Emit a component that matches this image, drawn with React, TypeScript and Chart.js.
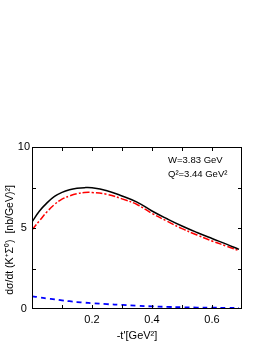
import React, { useEffect, useRef } from "react";
import { Chart, registerables } from "chart.js";

Chart.register(...registerables);

const tValues = [0, 0.025, 0.05, 0.075, 0.1, 0.125, 0.15, 0.175, 0.2, 0.25, 0.3, 0.35, 0.4, 0.45, 0.5, 0.55, 0.6, 0.65, 0.69];
const totalSeries = [5.38, 6.05, 6.55, 6.95, 7.2, 7.36, 7.45, 7.49, 7.48, 7.3, 6.98, 6.6, 6.05, 5.57, 5.12, 4.72, 4.35, 3.99, 3.68];
const transverseSeries = [4.88, 5.45, 6.0, 6.45, 6.78, 6.98, 7.12, 7.19, 7.19, 7.08, 6.8, 6.45, 5.9, 5.42, 4.96, 4.57, 4.2, 3.87, 3.6];
const longitudinalSeries = [0.78, 0.72, 0.65, 0.6, 0.53, 0.48, 0.43, 0.39, 0.36, 0.3, 0.25, 0.2, 0.16, 0.13, 0.11, 0.09, 0.08, 0.07, 0.06];
const xLabelTicks = [0.2, 0.4, 0.6];
const yLabelTicks = [0, 5, 10];
const xMinorTicks = [0.1, 0.2, 0.3, 0.4, 0.5, 0.6];
const yMinorTicks = [2.5, 5, 7.5];
const annotationLines = ["W=3.83 GeV", "Q²=3.44 GeV²"];
const yTitle = "dσ/dt (K⁺Σ⁰)  [nb/GeV)²]";
const xTitle = "-t'[GeV²]";

const FONT = "'Liberation Sans', Arial, sans-serif";

const framePlugin = {
  id: "frameTicks",
  afterDatasetsDraw(chart: any) {
    const { ctx, chartArea: a, scales } = chart;
    const xs = scales.x;
    const ys = scales.y;
    ctx.save();
    ctx.strokeStyle = "#000";
    ctx.lineWidth = 1;
    ctx.strokeRect(a.left + 0.5, a.top + 0.5, a.right - a.left - 1, a.bottom - a.top - 1);
    const L = 4;
    ctx.beginPath();
    xMinorTicks.forEach((v) => {
      const px = Math.round(xs.getPixelForValue(v)) + 0.5;
      ctx.moveTo(px, a.bottom);
      ctx.lineTo(px, a.bottom - L);
      ctx.moveTo(px, a.top);
      ctx.lineTo(px, a.top + L);
    });
    yMinorTicks.forEach((v) => {
      const py = Math.round(ys.getPixelForValue(v)) + 0.5;
      ctx.moveTo(a.left, py);
      ctx.lineTo(a.left + L, py);
      ctx.moveTo(a.right, py);
      ctx.lineTo(a.right - L, py);
    });
    ctx.stroke();
    // annotation
    ctx.fillStyle = "#000";
    ctx.font = `9.5px ${FONT}`;
    ctx.textAlign = "left";
    ctx.textBaseline = "middle";
    ctx.fillText(annotationLines[0], 168, 160);
    ctx.fillText(annotationLines[1], 168, 174);
    // y title
    ctx.save();
    ctx.translate(10, 240);
    ctx.rotate(-Math.PI / 2);
    ctx.textAlign = "center";
    ctx.textBaseline = "middle";
    ctx.font = `10.5px ${FONT}`;
    ctx.fillText(yTitle, 0, 0);
    ctx.restore();
    ctx.restore();
  },
};

function App() {
  const ref = useRef<HTMLCanvasElement | null>(null);
  useEffect(() => {
    if (!ref.current) return;
    const mk = (arr: number[]) => tValues.map((t, i) => ({ x: t, y: arr[i] }));
    const chart = new Chart(ref.current, {
      type: "line",
      data: {
        datasets: [
          {
            data: mk(totalSeries),
            borderColor: "#000000",
            borderWidth: 1.5,
            pointRadius: 0,
            tension: 0.4,
          },
          {
            data: mk(transverseSeries),
            borderColor: "#ff0000",
            borderWidth: 1.5,
            borderDash: [7, 2, 2, 2],
            pointRadius: 0,
            tension: 0.4,
          },
          {
            data: mk(longitudinalSeries),
            borderColor: "#0000ff",
            borderWidth: 1.8,
            borderDash: [5, 4],
            pointRadius: 0,
            tension: 0.4,
          },
        ],
      },
      options: {
        animation: false,
        responsive: false,
        devicePixelRatio: 1,
        layout: { padding: { left: 0, right: 24, top: 147, bottom: 0 } },
        plugins: { legend: { display: false }, tooltip: { enabled: false } },
        scales: {
          x: {
            type: "linear",
            min: 0,
            max: 0.7,
            grid: { display: false, drawTicks: false },
            border: { display: false },
            afterBuildTicks: (s: any) => {
              s.ticks = xLabelTicks.map((v) => ({ value: v }));
            },
            afterFit: (s: any) => {
              s.height = 35;
            },
            ticks: {
              padding: 4,
              color: "#000",
              font: { family: FONT, size: 11 },
              maxRotation: 0,
              autoSkip: false,
              callback: (v: any) => Number(v).toFixed(1),
            },
            title: {
              display: true,
              text: xTitle,
              color: "#000",
              font: { family: FONT, size: 11 },
              padding: { top: 0, bottom: 1 },
            },
          },
          y: {
            type: "linear",
            min: 0,
            max: 10,
            grid: { display: false, drawTicks: false },
            border: { display: false },
            afterBuildTicks: (s: any) => {
              s.ticks = yLabelTicks.map((v) => ({ value: v }));
            },
            afterFit: (s: any) => {
              s.width = 32;
            },
            ticks: {
              padding: 2,
              crossAlign: "center",
              color: "#000",
              font: { family: FONT, size: 11 },
              autoSkip: false,
              callback: (v: any) => String(v),
            },
          },
        },
      },
      plugins: [framePlugin],
    } as any);
    return () => chart.destroy();
  }, []);
  return (
    <div style={{ position: "fixed", left: 0, top: 0, width: 266, height: 344, background: "#fff" }}>
      <canvas ref={ref} width={266} height={344} style={{ width: 266, height: 344, display: "block" }} />
    </div>
  );
}

export default App;
